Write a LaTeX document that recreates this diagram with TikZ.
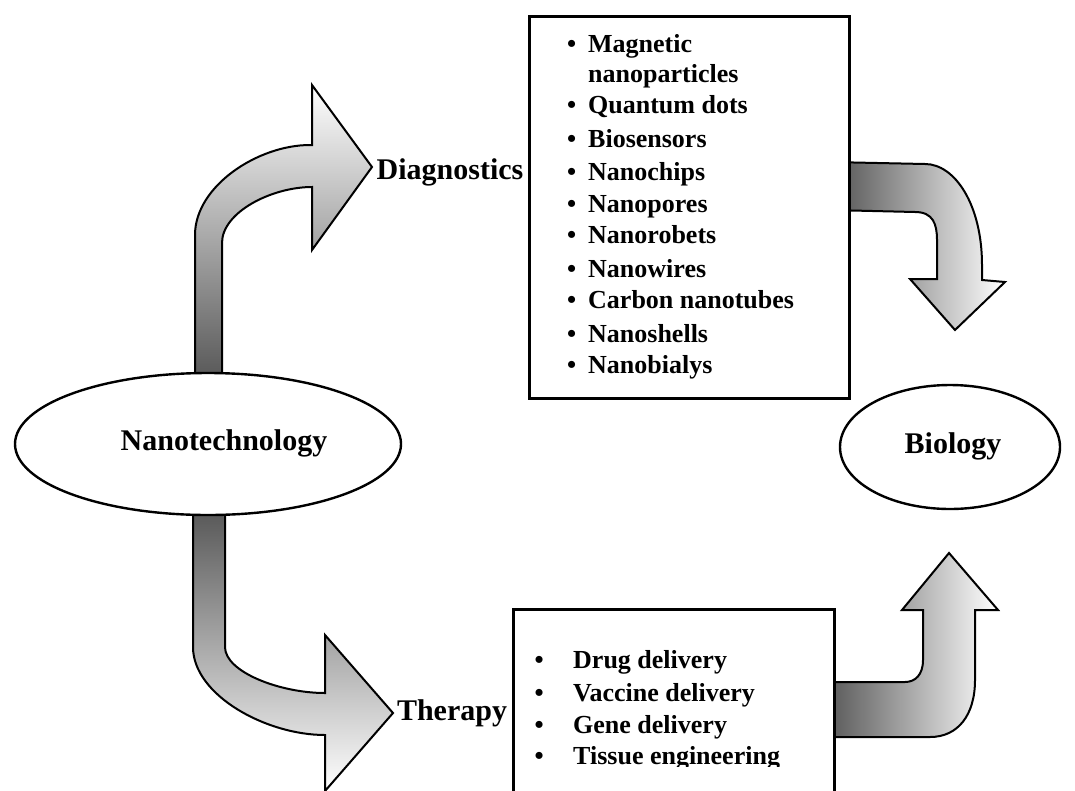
\documentclass[tikz,border=0pt]{standalone}
\usepackage{fontspec}
\setmainfont{Liberation Serif}
\usetikzlibrary{shapes.geometric}
\newcommand\mybig{\fontsize{30}{36}\selectfont\bfseries}
\newcommand\mylist{\fontsize{26}{32}\selectfont\bfseries}
\tikzset{
  arrowshape/.style={draw=black, line width=2pt, line join=miter},
  upshade/.style={top color=white, bottom color=black!68},
  downshade/.style={top color=black!68, bottom color=white},
  rightshade/.style={left color=black!68, right color=white},
  boxstyle/.style={draw=black, line width=2.6pt, fill=white, rectangle, inner sep=0pt},
  ovalstyle/.style={draw=black, line width=2.4pt, fill=white, ellipse, inner sep=0pt},
  bigtext/.style={font=\mybig, inner sep=0pt, anchor=base},
  listtext/.style={font=\mylist, inner sep=0pt, anchor=base west},
}
\begin{document}
\begin{tikzpicture}[x=1pt,y=-1pt]
\useasboundingbox (0,0) rectangle (1075,790);
\clip (0,0) rectangle (1075,790);
\fill[white] (0,0) rectangle (1075,790);

% arrows
\path[arrowshape, upshade] (222,390) -- (222,243) .. controls (222,212) and (272,187) .. (312,187)
  -- (312,250) -- (372,167) -- (312,85) -- (312,145) -- (310,145)
  .. controls (258,145) and (195,186) .. (195,235) -- (195,390) -- cycle;
\path[arrowshape, downshade] (225,500) -- (225,647) .. controls (225,672) and (280,693) .. (325,693)
  -- (325,635) -- (393,713) -- (325,791) -- (325,735)
  .. controls (266,735) and (193,695) .. (193,647) -- (193,500) -- cycle;
\path[arrowshape, rightshade] (830,162) -- (925,164) .. controls (955,164) and (982,205) .. (982,265)
  -- (982,280) -- (1005,282) -- (955,330) -- (910,279) -- (937,279) -- (937,240)
  .. controls (937,224) and (933,212) .. (915,212) -- (830,210) -- cycle;
\path[arrowshape, rightshade] (820,737) -- (930,737) .. controls (958,737) and (975,715) .. (975,680)
  -- (975,610) -- (998,610) -- (949,553) -- (902,610) -- (923,610) -- (923,660)
  .. controls (923,675) and (915,682) .. (905,682) -- (820,682) -- cycle;

% ellipses
\node[ovalstyle, minimum width=386, minimum height=142] (nano) at (208,444) {};
\node[bigtext] (nanotxt) at (224,450) {Nanotechnology};
\node[ovalstyle, minimum width=220, minimum height=124] (bio) at (950,447) {};
\node[bigtext] (biotxt) at (953,453) {Biology};

% labels
\node[bigtext] (diag) at (450,179) {Diagnostics};
\node[bigtext] (ther) at (452,720) {Therapy};

% boxes
\node[boxstyle, anchor=north west, minimum width=320, minimum height=382] (topbox) at (528,15) {};
\node[boxstyle, anchor=north west, minimum width=321, minimum height=200] (botbox) at (512,608) {};

% top list
\foreach \yy/\bb/\tt [count=\i] in {52/1/Magnetic, 82/0/nanoparticles, 113/1/Quantum dots,
   147/1/Biosensors, 180/1/Nanochips, 212/1/Nanopores, 243/1/Nanorobets, 277/1/Nanowires,
   308/1/Carbon nanotubes, 342/1/Nanoshells, 373/1/Nanobialys}
  \node[listtext] (d\i) at (567,\yy) {\ifnum\bb=1 \makebox[21pt][l]{•}\else\hspace{21pt}\fi\tt};

% bottom list
\foreach \yy/\tt [count=\i] in {668/Drug delivery, 701/Vaccine delivery, 733/Gene delivery}
  \node[listtext] (t\i) at (534.5,\yy) {\makebox[38.5pt][l]{•}\tt};
\begin{scope}
  \clip (0,0) rectangle (1075,766);
  \node[listtext] (t4) at (534.5,764) {\makebox[38.5pt][l]{•}Tissue engineering};
\end{scope}
\end{tikzpicture}
\end{document}
